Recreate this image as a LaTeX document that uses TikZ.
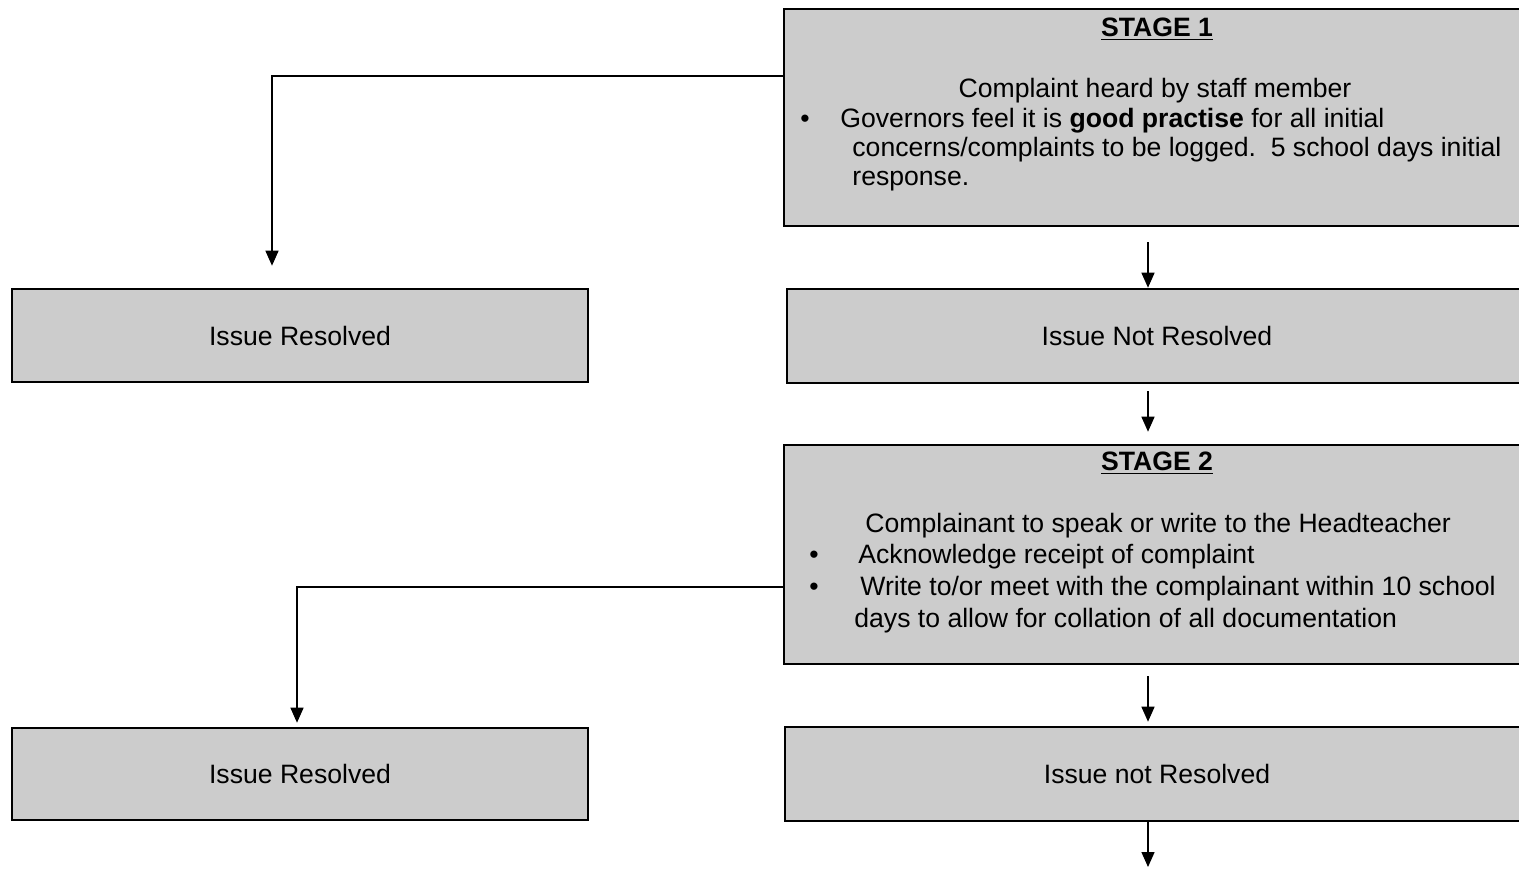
\documentclass[tikz,border=0pt]{standalone}
\usepackage{fontspec}
\setmainfont{Liberation Sans}
\usetikzlibrary{arrows.meta,fit}
\definecolor{boxgray}{HTML}{CCCCCC}
\newcommand\diagfont{\fontsize{13.3pt}{15.3pt}\selectfont}
\begin{document}
\begin{tikzpicture}[x=0.5pt,y=-0.5pt,
  box/.style={draw=black, line width=1.3pt, fill=boxgray, rectangle, inner sep=0pt},
  txt/.style={inner sep=0pt, anchor=base west, font=\diagfont},
  ctxt/.style={inner sep=0pt, anchor=base, font=\diagfont},
  bul/.style={inner sep=0pt, anchor=base, font=\diagfont},
  arr/.style={line width=0.7pt, -{Triangle[width=6.5pt,length=7.5pt]}}]
\useasboundingbox (0,0) rectangle (1519,875);
\clip (0,0) rectangle (1519,875);
% boxes
\node[box, fit={(784,9) (1528,226)}] (s1) {};
\node[box, fit={(12,289) (588,382)}] (ir1) {};
\node[box, fit={(787,289) (1528,383)}] (inr1) {};
\node[box, fit={(784,445) (1528,664)}] (s2) {};
\node[box, fit={(12,728) (588,820)}] (ir2) {};
\node[box, fit={(785,727) (1528,821)}] (inr2) {};
% short box labels
\node[ctxt] (ir1t) at (300,345) {Issue Resolved};
\node[ctxt] (inr1t) at (1157,345) {Issue Not Resolved};
\node[ctxt] (ir2t) at (300,783.5) {Issue Resolved};
\node[ctxt] (inr2t) at (1157,783.5) {Issue not Resolved};
% stage 1 text
\node[ctxt] (s1t) at (1157,36) {\underline{\textbf{STAGE 1}}};
\node[ctxt] (s1a) at (1155,97) {Complaint heard by staff member};
\node[bul] (s1b) at (805,127) {•};
\node[txt] (s1c) at (840,127) {Governors feel it is \textbf{good practise} for all initial};
\node[txt] (s1d) at (852,156) {concerns/complaints to be logged.\ \ 5 school days initial};
\node[txt] (s1e) at (852,185) {response.};
% stage 2 text
\node[ctxt] (s2t) at (1157,470) {\underline{\textbf{STAGE 2}}};
\node[txt] (s2a) at (865,532) {Complainant to speak or write to the Headteacher};
\node[bul] (s2b1) at (814,563) {•};
\node[txt] (s2c) at (858,563) {Acknowledge receipt of complaint};
\node[bul] (s2b2) at (814,595) {•};
\node[txt] (s2d) at (860,595) {Write to/or meet with the complainant within 10 school};
\node[txt] (s2e) at (854,627) {days to allow for collation of all documentation};
% connectors
\coordinate (k1) at (272,76);
\draw[arr, shorten >=11pt] (k1 -| s1.west) -- (k1) -- (k1 |- ir1.north);
\coordinate (k2) at (297,587);
\draw[arr, shorten >=2pt] (k2 -| s2.west) -- (k2) -- (k2 |- ir2.north);
\coordinate (vx) at (1148,0);
\draw[arr, shorten <=7.5pt] (vx |- s1.south) -- (vx |- inr1.north);
\draw[arr, shorten <=3.5pt, shorten >=6pt] (vx |- inr1.south) -- (vx |- s2.north);
\draw[arr, shorten <=5.5pt, shorten >=2pt] (vx |- s2.south) -- (vx |- inr2.north);
\coordinate (e) at (1148,867);
\draw[arr] (vx |- inr2.south) -- (e);
\end{tikzpicture}
\end{document}
